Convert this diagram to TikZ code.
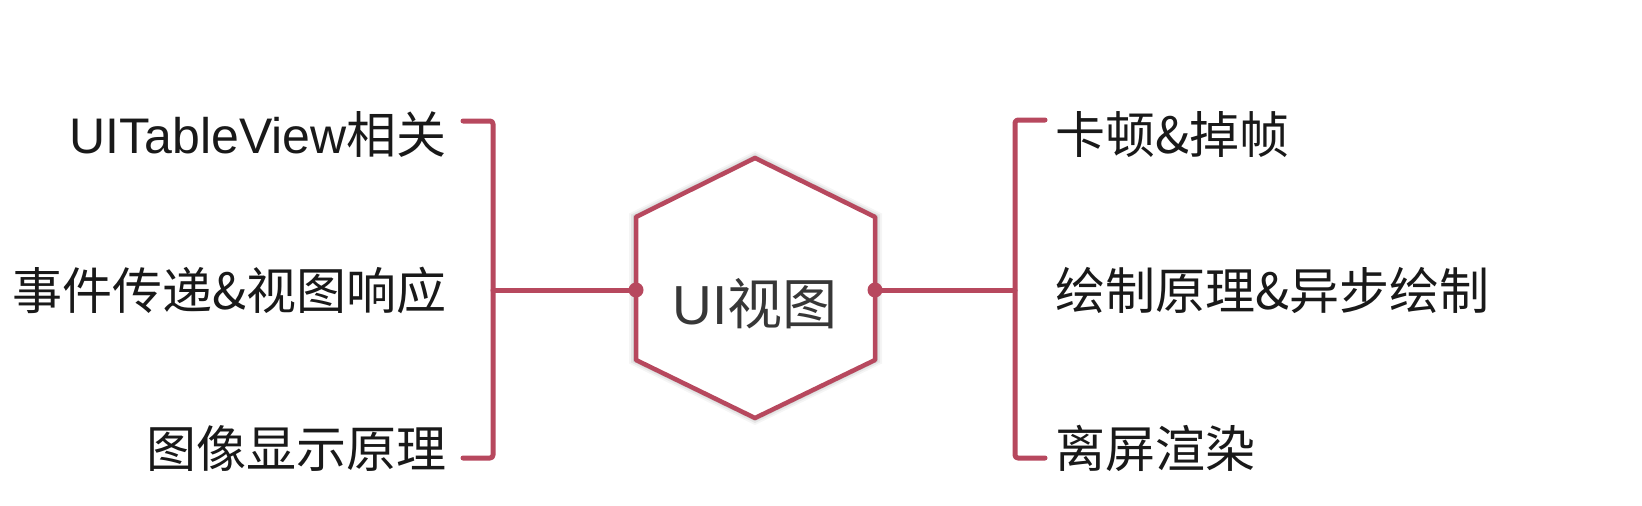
\documentclass[tikz,border=0pt]{standalone}
\usepackage{fontspec}
\setmainfont{Noto Sans CJK SC}
\newfontfamily\latinfont{Liberation Sans}
\usetikzlibrary{calc}
\definecolor{linec}{RGB}{183,72,94}
\definecolor{txt}{RGB}{25,25,25}
\definecolor{hextxt}{RGB}{55,55,55}
\tikzset{
  conn/.style={draw=linec,line width=5pt,line cap=round,line join=round,rounded corners=3pt},
  lbl/.style={inner sep=0pt,text=txt,font=\fontsize{50}{60}\selectfont},
  dotc/.style={fill=linec,circle,inner sep=0pt,minimum size=15pt}
}
\begin{document}
\begin{tikzpicture}[x=1pt,y=-1pt]
\useasboundingbox (0,0) rectangle (1642,506);
\fill[white] (0,0) rectangle (1642,506);
% hexagon corners
\coordinate (ht) at (755,158);
\coordinate (hul) at (636,217);
\coordinate (hll) at (636,360);
\coordinate (hb) at (755,418);
\coordinate (hlr) at (875,360);
\coordinate (hur) at (875,217);
\coordinate (hl) at (636,290);
\coordinate (hr) at (875,290);
% shadow
\foreach \s/\o in {7/0.04,5/0.06,3/0.08,1.5/0.10}{
  \fill[black,opacity=\o,shift={(3,4)}] ($(ht)+(0,-\s)$) -- ($(hur)+(\s,-\s*0.5)$) -- ($(hlr)+(\s,\s*0.5)$) -- ($(hb)+(0,\s)$) -- ($(hll)+(-\s,\s*0.5)$) -- ($(hul)+(-\s,-\s*0.5)$) -- cycle;
}
\filldraw[fill=white,draw=linec,line width=4.5pt,line join=round] (ht) -- (hur) -- (hlr) -- (hb) -- (hll) -- (hul) -- cycle;
\node[inner sep=0pt,text=hextxt,font=\fontsize{55}{66}\selectfont,anchor=base] (center) at (755,324) {{\latinfont UI}视图};
% left labels
\node[lbl,anchor=base east] (l1) at (447,153) {{\latinfont UITableView}相关};
\node[lbl,anchor=base east] (l2) at (447,309) {事件传递\&视图响应};
\node[lbl,anchor=base east] (l3) at (447,467) {图像显示原理};
% right labels
\node[lbl,anchor=base west] (r1) at (1055,153) {卡顿\&掉帧};
\node[lbl,anchor=base west] (r2) at (1055,309) {绘制原理\&异步绘制};
\node[lbl,anchor=base west] (r3) at (1055,467) {离屏渲染};
% bracket coordinates
\coordinate (lbt) at (463,121);
\coordinate (lbb) at (463,458);
\coordinate (lbm) at (493,290);
\coordinate (rbt) at (1045,120);
\coordinate (rbb) at (1045,458);
\coordinate (rbm) at (1015,290);
% brackets
\draw[conn] (lbt) -| (lbm) |- (lbb);
\draw[conn] (rbt) -| (rbm) |- (rbb);
\draw[conn,rounded corners=0pt] (lbm) -- (hl);
\draw[conn,rounded corners=0pt] (hr) -- (rbm);
\node[dotc] (dl) at (hl) {};
\node[dotc] (dr) at (hr) {};
\end{tikzpicture}
\end{document}
